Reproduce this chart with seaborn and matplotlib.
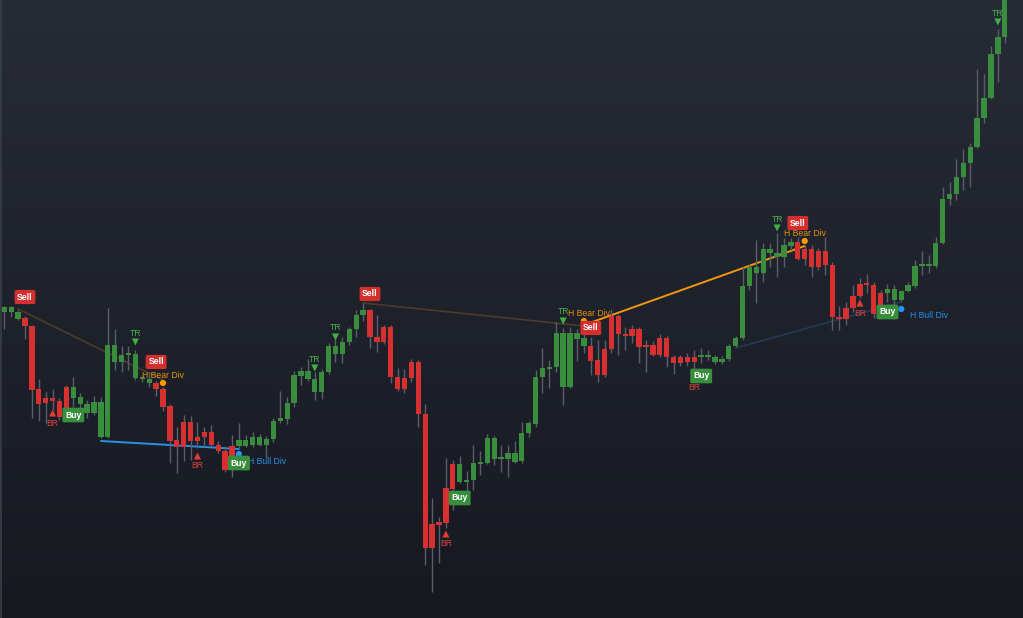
import numpy as np
import pandas as pd
import matplotlib
matplotlib.use("Agg")
import matplotlib.pyplot as plt
from matplotlib.colors import LinearSegmentedColormap
from matplotlib import font_manager
import seaborn as sns

# ---------------- data (OHLC) ----------------
opens = [308, 308, 301, 302, 294, 231, 222, 222, 219, 233,
         222, 216, 207, 207, 183, 183, 258, 258, 265, 242,
         241, 237, 237, 231, 214, 180, 198, 198, 183, 188,
         188, 175, 169, 174, 174, 174, 175, 175, 175, 181,
         199, 201, 217, 244, 241, 228, 228, 248, 266, 266,
         278, 291, 305, 310, 283, 293, 293, 243, 242, 258,
         258, 206, 96, 98, 132, 156, 138, 138, 140, 156,
         157, 161, 161, 161, 158, 159, 187, 196, 243, 251,
         253, 233, 233, 281, 274, 274, 260, 271, 304, 304,
         286, 291, 291, 275, 275, 282, 282, 263, 263, 263,
         263, 263, 263, 258, 258, 261, 274, 282, 334, 347,
         347, 367, 363, 363, 374, 378, 371, 371, 369, 369,
         355, 303, 312, 324, 336, 336, 335, 327, 327, 320,
         320, 329, 334, 354, 354, 354, 377, 421, 426, 443,
         457, 473, 502, 522, 566, 583]
highs = [314, 314, 310, 304, 295, 241, 228, 231, 222, 235,
         243, 227, 220, 224, 223, 312, 291, 274, 274, 270,
         245, 248, 239, 233, 216, 193, 205, 204, 198, 193,
         195, 179, 174, 185, 197, 185, 188, 186, 184, 202,
         229, 223, 249, 253, 261, 248, 251, 277, 283, 283,
         293, 310, 317, 311, 305, 295, 295, 252, 251, 261,
         260, 216, 122, 103, 162, 160, 164, 149, 175, 169,
         186, 184, 175, 175, 179, 198, 199, 250, 272, 260,
         298, 292, 293, 291, 287, 283, 280, 280, 311, 306,
         293, 295, 293, 280, 279, 286, 284, 265, 265, 267,
         270, 272, 270, 265, 264, 276, 284, 353, 355, 380,
         377, 377, 387, 382, 382, 383, 375, 375, 372, 383,
         358, 314, 318, 335, 342, 346, 338, 330, 336, 335,
         330, 338, 360, 369, 365, 383, 433, 438, 461, 471,
         477, 551, 546, 574, 591, 630]
lows = [291, 303, 300, 281, 202, 199, 197, 210, 200, 202,
        213, 210, 202, 205, 182, 182, 250, 248, 250, 240,
        238, 233, 224, 209, 157, 147, 159, 160, 172, 173,
        174, 167, 148, 143, 172, 173, 173, 174, 162, 178,
        197, 196, 213, 235, 239, 220, 221, 246, 258, 257,
        275, 283, 299, 272, 268, 276, 237, 229, 227, 238,
        193, 55, 28, 57, 92, 110, 137, 127, 130, 145,
        156, 155, 148, 143, 157, 157, 183, 193, 227, 232,
        248, 215, 232, 259, 267, 245, 238, 243, 267, 265,
        270, 277, 257, 248, 264, 263, 253, 246, 254, 254,
        250, 257, 260, 256, 256, 259, 273, 280, 330, 317,
        338, 353, 343, 353, 370, 360, 355, 343, 350, 345,
        290, 290, 295, 308, 322, 327, 302, 302, 318, 310,
        318, 328, 332, 345, 347, 352, 376, 415, 420, 430,
        433, 472, 497, 521, 538, 577]
closes = [313, 313, 308, 294, 230, 216, 217, 219, 203, 203,
          233, 223, 216, 218, 218, 275, 275, 265, 267, 266,
          243, 241, 231, 213, 179, 173, 173, 179, 179, 183,
          175, 169, 150, 150, 180, 180, 183, 183, 181, 199,
          202, 217, 245, 249, 249, 241, 248, 274, 274, 278,
          291, 305, 310, 283, 278, 278, 243, 231, 231, 242,
          206, 72, 72, 95, 97, 131, 156, 140, 157, 158,
          182, 182, 162, 167, 167, 187, 197, 243, 252, 253,
          287, 287, 287, 287, 282, 259, 245, 245, 271, 286,
          284, 284, 273, 273, 265, 265, 263, 257, 257, 258,
          258, 265, 265, 263, 261, 274, 282, 334, 353, 353,
          371, 371, 367, 375, 378, 361, 361, 353, 353, 355,
          303, 301, 301, 312, 324, 335, 306, 306, 331, 331,
          329, 335, 354, 356, 356, 377, 421, 426, 443, 457,
          473, 502, 522, 566, 583, 628]

# signal labels (bar index, price)
sell_idx = [3, 22, 53, 85, 115]
sell_px = [323, 258, 326, 292, 397]
buy_idx = [10, 34, 66, 101, 128]
buy_px = [205, 157, 122, 244, 308]
tr_idx = [19, 45, 48, 81, 112, 144]
tr_px = [287, 261, 292, 308, 401, 607]
br_idx = [7, 28, 64, 100, 124]
br_px = [197, 154, 76, 233, 307]
bear_idx = [23, 84, 116]
bear_dot = [237, 299, 379]
bull_idx = [34, 130]
bull_dot = [166, 311]

# divergence lines: (start idx, start price, end idx, end price)
div_lines = [
    (2, 311, 23, 240, "#4d3b2a", 1.2),
    (14, 179, 34, 171, "#2a8fe6", 1.4),
    (52, 317, 84, 294, "#4d3b2a", 1.2),
    (84, 295, 116, 374, "#f0960f", 1.4),
    (106, 272, 130, 318, "#233a58", 1.2),
]

# ---------------- styling ----------------
sns.set_theme(style="dark", rc={"axes.facecolor": "#1d2029",
                                "figure.facecolor": "#1d2029"})
installed = {f.name for f in font_manager.fontManager.ttflist}
narrow = "Liberation Sans Narrow" if "Liberation Sans Narrow" in installed else "Liberation Sans"
plt.rcParams["font.family"] = ["Liberation Sans", "DejaVu Sans"]
SIGFONT = [narrow, "DejaVu Sans"]

GREEN = "#388e3c"
RED = "#d83030"
WICK = "#5a5e66"
FS = 7.0 if narrow != "Liberation Sans" else 6.2

fig = plt.figure(figsize=(10.23, 6.18), dpi=100)
ax = fig.add_axes([0, 0, 1, 1])
XL = (-0.623, 147.64)
YL = (2, 620)

# background gradient (dark at bottom, lighter at top)
grad = np.linspace(0, 1, 256).reshape(-1, 1)
cmap = LinearSegmentedColormap.from_list("bg", ["#161920", "#272b36"])
ax.imshow(grad, cmap=cmap, aspect="auto", extent=[XL[0], XL[1], YL[0], YL[1]],
          zorder=0, origin="lower")
ax.set_xlim(*XL)
ax.set_ylim(*YL)
ax.axis("off")
ax.axvline(-0.5, color="#3a3e47", lw=1.2, zorder=1)

df = pd.DataFrame({"o": opens, "h": highs, "l": lows, "c": closes})
df["i"] = np.arange(len(df))
df["up"] = df["c"] >= df["o"]

# divergence lines (behind candles)
for (x0, y0, x1, y1, col, lw) in div_lines:
    seg = pd.DataFrame({"x": [x0, x1], "y": [y0, y1]})
    sns.lineplot(data=seg, x="x", y="y", ax=ax, color=col, lw=lw,
                 zorder=2, legend=False)

# wicks
ax.vlines(df["i"], df["l"], df["h"], color=WICK, lw=1.0, zorder=3)
# bodies
bottoms = np.minimum(df["o"], df["c"])
heights = np.maximum(np.abs(df["c"] - df["o"]), 1.8)
colors = [GREEN if u else RED for u in df["up"]]
ax.bar(df["i"], heights, bottom=bottoms, width=0.78, color=colors,
       edgecolor="none", zorder=4)

# divergence dots
dots = pd.DataFrame({"x": bear_idx + bull_idx, "y": bear_dot + bull_dot,
                     "kind": ["bear"] * len(bear_idx) + ["bull"] * len(bull_idx)})
sns.scatterplot(data=dots, x="x", y="y", hue="kind",
                palette={"bear": "#ff9800", "bull": "#2196f3"},
                s=20, edgecolor="none", ax=ax, zorder=6, legend=False)

# divergence texts
bear_dx = [0.0, 0.8, 0.0]
for i, p, dx in zip(bear_idx, bear_dot, bear_dx):
    ax.text(i + dx, p + 8, "H Bear Div", color="#e8900f", fontsize=FS,
            family=SIGFONT, ha="center", va="center", zorder=6)
for i, p in zip(bull_idx, bull_dot):
    ax.text(i + 1.3, p - 7, "H Bull Div", color="#2590ea", fontsize=FS,
            family=SIGFONT, ha="left", va="center", zorder=6)

# TR markers
tr = pd.DataFrame({"x": tr_idx, "y": np.array(tr_px) - 9})
sns.scatterplot(data=tr, x="x", y="y", marker="v", s=26, color="#3fb044",
                edgecolor="none", ax=ax, zorder=6, legend=False)
for i, p in zip(tr_idx, tr_px):
    ax.text(i, p, "TR", color="#4caf50", fontsize=FS, family=SIGFONT,
            ha="center", va="center", zorder=6)

# BR markers
br = pd.DataFrame({"x": br_idx, "y": np.array(br_px) + 10})
sns.scatterplot(data=br, x="x", y="y", marker="^", s=26, color="#e53935",
                edgecolor="none", ax=ax, zorder=6, legend=False)
for i, p in zip(br_idx, br_px):
    ax.text(i, p, "BR", color="#d6433d", fontsize=FS, family=SIGFONT,
            ha="center", va="center", zorder=6)

# Sell / Buy labels
for i, p in zip(sell_idx, sell_px):
    ax.text(i, p, "Sell", color="white", fontsize=6.2, fontweight="bold",
            ha="center", va="center", zorder=8,
            bbox=dict(boxstyle="round,pad=0.3,rounding_size=0.2",
                      fc="#d32f2f", ec="none"))
for i, p in zip(buy_idx, buy_px):
    ax.text(i, p, "Buy", color="white", fontsize=6.2, fontweight="bold",
            ha="center", va="center", zorder=8,
            bbox=dict(boxstyle="round,pad=0.33,rounding_size=0.2",
                      fc="#388e3c", ec="none"))

fig.savefig("out.png", dpi=100)
